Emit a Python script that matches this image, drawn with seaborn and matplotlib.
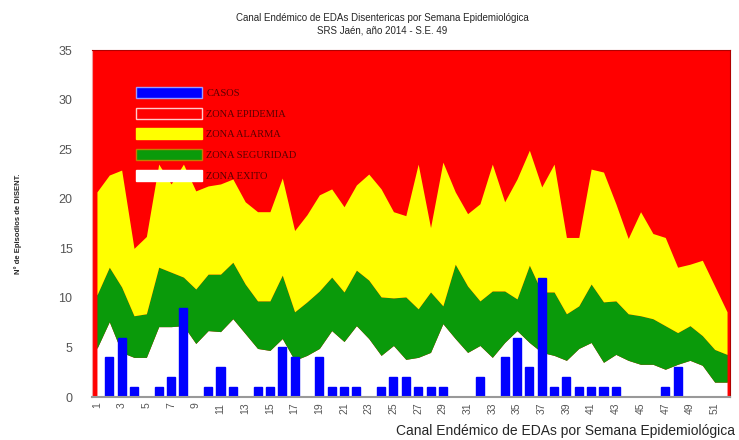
import numpy as np
import pandas as pd
import matplotlib
matplotlib.use("Agg")
import matplotlib.pyplot as plt
import seaborn as sns
from matplotlib.patches import Patch

semanas = list(range(1, 53))

casos = [0, 4, 6, 1, 0, 1, 2, 9, 0, 1, 3, 1, 0, 1, 1, 5, 4, 0, 4, 1,
         1, 1, 0, 1, 2, 2, 1, 1, 1, 0, 0, 2, 0, 4, 6, 3, 12, 1, 2, 1,
         1, 1, 1, 0, 0, 0, 1, 3, 0, 0, 0, 0]

zona_exito = [4.9, 7.6, 4.5, 4.0, 4.0, 7.1, 7.1, 7.2, 5.4, 6.7,
              6.6, 7.9, 6.4, 4.9, 4.7, 5.9, 3.7, 4.2, 4.9, 6.7,
              5.6, 7.2, 5.9, 4.2, 5.2, 3.8, 4.0, 4.5, 7.4, 5.9,
              4.5, 5.2, 4.0, 5.5, 6.7, 5.5, 4.5, 4.2, 3.7, 4.9,
              5.5, 3.5, 4.3, 3.7, 3.3, 3.3, 2.8, 3.3, 3.7, 3.2,
              1.5, 1.5]

zona_seguridad = [10.3, 13.1, 11.1, 8.2, 8.4, 13.1, 12.6, 12.1, 10.9, 12.4,
                  12.4, 13.6, 11.4, 9.7, 9.7, 12.3, 8.6, 9.6, 10.7, 12.1,
                  10.6, 12.8, 11.8, 10.1, 10.0, 10.1, 8.9, 10.6, 9.2, 13.4,
                  11.2, 9.7, 10.7, 10.7, 9.9, 13.3, 10.6, 10.6, 8.4, 9.2,
                  11.4, 9.6, 9.7, 8.4, 8.2, 7.9, 7.2, 6.5, 7.2, 6.2,
                  4.8, 4.3]

zona_alarma = [20.7, 22.4, 22.9, 15.0, 16.2, 23.5, 21.5, 23.5, 20.8, 21.3,
               21.5, 22.0, 19.7, 18.7, 18.7, 22.1, 16.8, 18.4, 20.4, 21.0,
               19.2, 21.4, 22.5, 21.0, 18.7, 18.3, 23.5, 17.1, 23.7, 20.7,
               18.5, 19.5, 23.5, 19.7, 22.0, 24.9, 21.2, 23.5, 16.1, 16.1,
               23.0, 22.7, 19.5, 16.0, 18.7, 16.5, 16.1, 13.1, 13.4, 13.8,
               11.2, 8.6]

df = pd.DataFrame({"semana": semanas, "casos": casos})

sns.set_style("white")
plt.rcParams["font.family"] = ["Liberation Sans", "DejaVu Sans"]

fig = plt.figure(figsize=(7.39, 4.40), dpi=100)
ax = fig.add_axes([0.1245, 0.0977, 0.8635, 0.7883])
ax.set_facecolor("#ff0000")

# zonas del canal endemico
ax.fill_between(semanas, 0, zona_exito, color="white", linewidth=0)
ax.fill_between(semanas, zona_exito, zona_seguridad, color="#0a9a0a", linewidth=0)
ax.fill_between(semanas, zona_seguridad, zona_alarma, color="#ffff00", linewidth=0)

sns.barplot(data=df, x="semana", y="casos", native_scale=True, width=0.65,
            color="#0000ff", saturation=1, edgecolor="#0000ff", ax=ax)

ax.set_xlim(0.6, 52.25)
ax.set_ylim(0, 35)
ax.set_yticks(range(0, 36, 5))
ax.set_xticks(semanas[::2])
ax.set_xticklabels([str(s) for s in semanas[::2]], rotation=90, fontsize=7.5, color="#555555")
ax.tick_params(axis="y", labelsize=9, labelcolor="#555555", length=0, pad=14)
ax.tick_params(axis="x", length=0, pad=4)
ax.set_xlabel("")
ax.set_ylabel("N° de Episodios de DISENT.", fontsize=5.5, fontweight="bold", labelpad=26)

for side in ["top", "right"]:
    ax.spines[side].set_color("#b00000")
ax.spines["left"].set_color("#f0a0a0")
ax.spines["bottom"].set_color("#999999")
ax.spines["bottom"].set_linewidth(1.5)

fig.text(0.517, 0.959, "Canal Endémico de EDAs Disentericas por Semana Epidemiológica",
         ha="center", va="center", fontsize=7)
fig.text(0.517, 0.930, "SRS Jaén, año 2014 - S.E. 49", ha="center", va="center", fontsize=7)
fig.text(0.995, 0.02, "Canal Endémico de EDAs por Semana Epidemiológica",
         ha="right", va="center", fontsize=10)

handles = [
    Patch(facecolor="#0000ff", edgecolor="#9999ff", label="CASOS"),
    Patch(facecolor="#ff0000", edgecolor="#ffcccc", label="ZONA EPIDEMIA"),
    Patch(facecolor="#ffff00", edgecolor="#ffff00", label="ZONA ALARMA"),
    Patch(facecolor="#0a9a0a", edgecolor="#c08000", label="ZONA SEGURIDAD"),
    Patch(facecolor="white", edgecolor="white", label="ZONA EXITO"),
]
leg = ax.legend(handles=handles, loc="upper left", bbox_to_anchor=(0.055, 0.922),
                frameon=False, handlelength=6.3, handleheight=1.25,
                labelspacing=0.95, handletextpad=0.4,
                prop={"family": "Liberation Serif", "size": 7.5})
for t in leg.get_texts():
    t.set_color("#5a0000")

fig.savefig("out.png", dpi=100)
